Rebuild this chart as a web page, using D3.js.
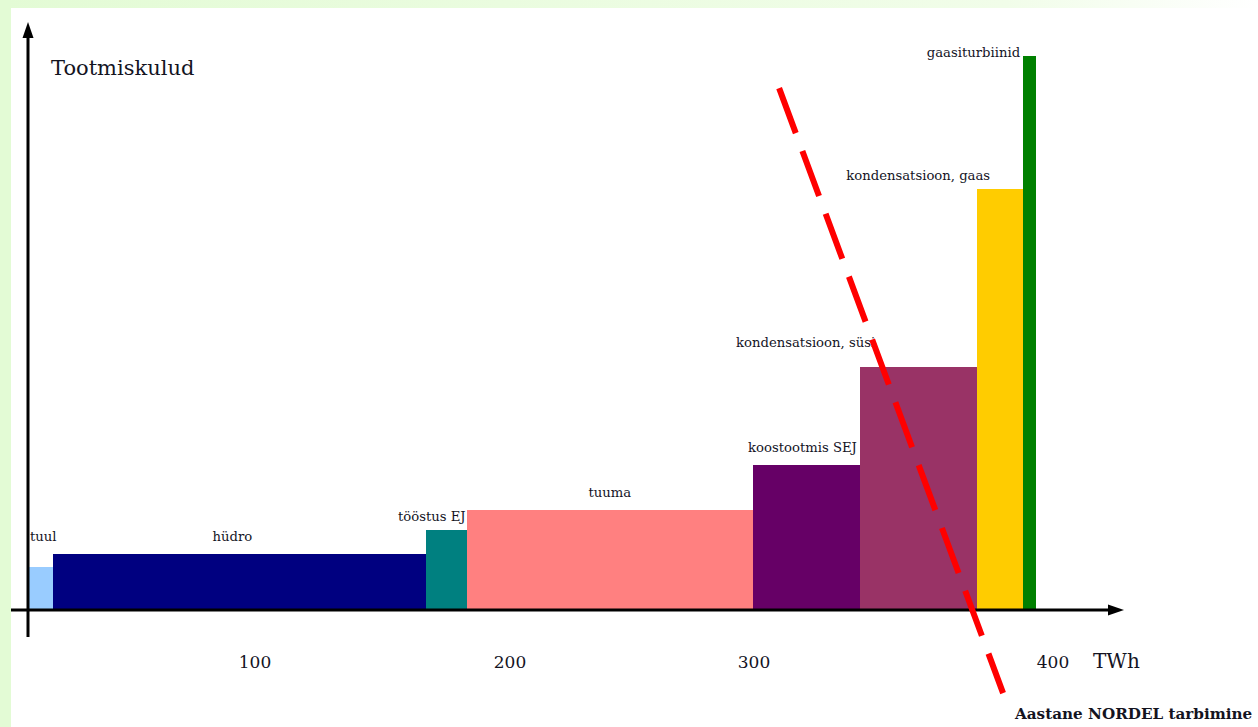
<!DOCTYPE html>
<html>
<head>
<meta charset="utf-8">
<script src="https://cdn.jsdelivr.net/npm/d3@7"></script>
<style>
  body { margin: 0; background: #fff; }
  text { font-family: "DejaVu Serif", "Liberation Serif", serif; fill: #14141f; }
</style>
</head>
<body>
<div class="canva"></div>
<script>
// merit order data (TWh and relative cost)
const sources = ["tuul", "hüdro", "tööstus EJ", "tuuma", "koostootmis SEJ",
                 "kondensatsioon, süsi", "kondensatsioon, gaas", "gaasiturbiinid"];
const capacity = [11, 156, 16, 116.5, 36, 39, 15.5, 4];
const cost = [7.8, 10.1, 14.4, 18.1, 26.2, 43.9, 76.0, 100];
const colors = ["#99ccff", "#000080", "#008080", "#ff8080", "#660066",
                "#993366", "#ffcc00", "#008000"];
const tickValues = [100, 200, 300, 400];
const demandTWh = [308.4, 383.3];
const demandCost = [94.2, -15];

const width = 1258, height = 727;

const svg = d3.select(".canva").append("svg")
    .attr("width", width)
    .attr("height", height);

// slide-like backdrop
const grad = svg.append("defs").append("linearGradient")
    .attr("id", "topfade").attr("x1", 0).attr("x2", 1).attr("y1", 0).attr("y2", 0);
grad.append("stop").attr("offset", "0%").attr("stop-color", "#e3fbd5");
grad.append("stop").attr("offset", "80%").attr("stop-color", "#f1fde9");
grad.append("stop").attr("offset", "100%").attr("stop-color", "#ffffff");

svg.append("rect").attr("width", width).attr("height", 8).attr("fill", "url(#topfade)");
svg.append("rect").attr("width", 11).attr("height", height).attr("fill", "#e3fbd5");

const x = d3.scaleLinear()
    .domain([0, 100, 200, 300, 400])
    .range([28, 255, 510, 754, 1053]);

const y = d3.scaleLinear()
    .domain([0, 100])
    .range([610, 56]);

let acc = 0;
const blocks = sources.map((s, i) => {
    const b = {name: s, x0: acc, x1: acc + capacity[i], cost: cost[i], color: colors[i]};
    acc += capacity[i];
    return b;
});

svg.selectAll("rect.bar")
    .data(blocks)
    .enter()
    .append("rect")
    .attr("class", "bar")
    .attr("x", d => x(d.x0))
    .attr("y", d => y(d.cost))
    .attr("width", d => x(d.x1) - x(d.x0) + 0.5)
    .attr("height", d => y(0) - y(d.cost))
    .attr("fill", d => d.color)
    .attr("shape-rendering", "crispEdges");

// label placement: anchor, dx from anchor point, dy from bar top
const labelPos = [
    {anchor: "start", at: "x0", dx: 2, dy: -26},
    {anchor: "middle", at: "mid", dx: -7, dy: -13},
    {anchor: "end", at: "x1", dx: -1, dy: -9},
    {anchor: "middle", at: "mid", dx: 0, dy: -13},
    {anchor: "middle", at: "mid", dx: -4, dy: -13},
    {anchor: "end", at: "x0", dx: 15, dy: -20},
    {anchor: "end", at: "x1", dx: -33, dy: -9},
    {anchor: "end", at: "x0", dx: -3, dy: 1}
];

svg.selectAll("text.lbl")
    .data(blocks)
    .enter()
    .append("text")
    .attr("class", "lbl")
    .attr("font-size", 13.2)
    .attr("text-anchor", (d, i) => labelPos[i].anchor)
    .attr("x", (d, i) => {
        const p = labelPos[i];
        const base = p.at === "x0" ? x(d.x0) : p.at === "x1" ? x(d.x1) : (x(d.x0) + x(d.x1)) / 2;
        return base + p.dx;
    })
    .attr("y", (d, i) => y(d.cost) + labelPos[i].dy)
    .text(d => d.name);

// axes with arrowheads
svg.append("line")
    .attr("x1", 28).attr("x2", 28)
    .attr("y1", y(0) + 27).attr("y2", 36)
    .attr("stroke", "#000").attr("stroke-width", 3);
svg.append("path")
    .attr("d", "M28,22 L22.5,38 L33.5,38 Z")
    .attr("fill", "#000");

svg.append("line")
    .attr("x1", 11).attr("x2", 1112)
    .attr("y1", y(0)).attr("y2", y(0))
    .attr("stroke", "#000").attr("stroke-width", 3);
svg.append("path")
    .attr("d", `M1124,${y(0)} L1108,${y(0) - 5.5} L1108,${y(0) + 5.5} Z`)
    .attr("fill", "#000");

svg.selectAll("text.tick")
    .data(tickValues)
    .enter()
    .append("text")
    .attr("class", "tick")
    .attr("x", d => x(d))
    .attr("y", 668)
    .attr("text-anchor", "middle")
    .attr("font-size", 17)
    .text(d => d);

svg.append("text")
    .attr("x", 1093).attr("y", 668)
    .attr("font-size", 20)
    .text("TWh");

svg.append("text")
    .attr("x", 51).attr("y", 75)
    .attr("font-size", 21)
    .text("Tootmiskulud");

// annual demand line
svg.append("line")
    .attr("x1", x(demandTWh[0])).attr("y1", y(demandCost[0]))
    .attr("x2", x(demandTWh[1])).attr("y2", y(demandCost[1]))
    .attr("stroke", "#ff0000")
    .attr("stroke-width", 6)
    .attr("stroke-dasharray", "48,19");

svg.append("text")
    .attr("x", 1015).attr("y", 719)
    .attr("font-size", 15.2)
    .attr("font-weight", "bold")
    .text("Aastane NORDEL tarbimine");
</script>
</body>
</html>
